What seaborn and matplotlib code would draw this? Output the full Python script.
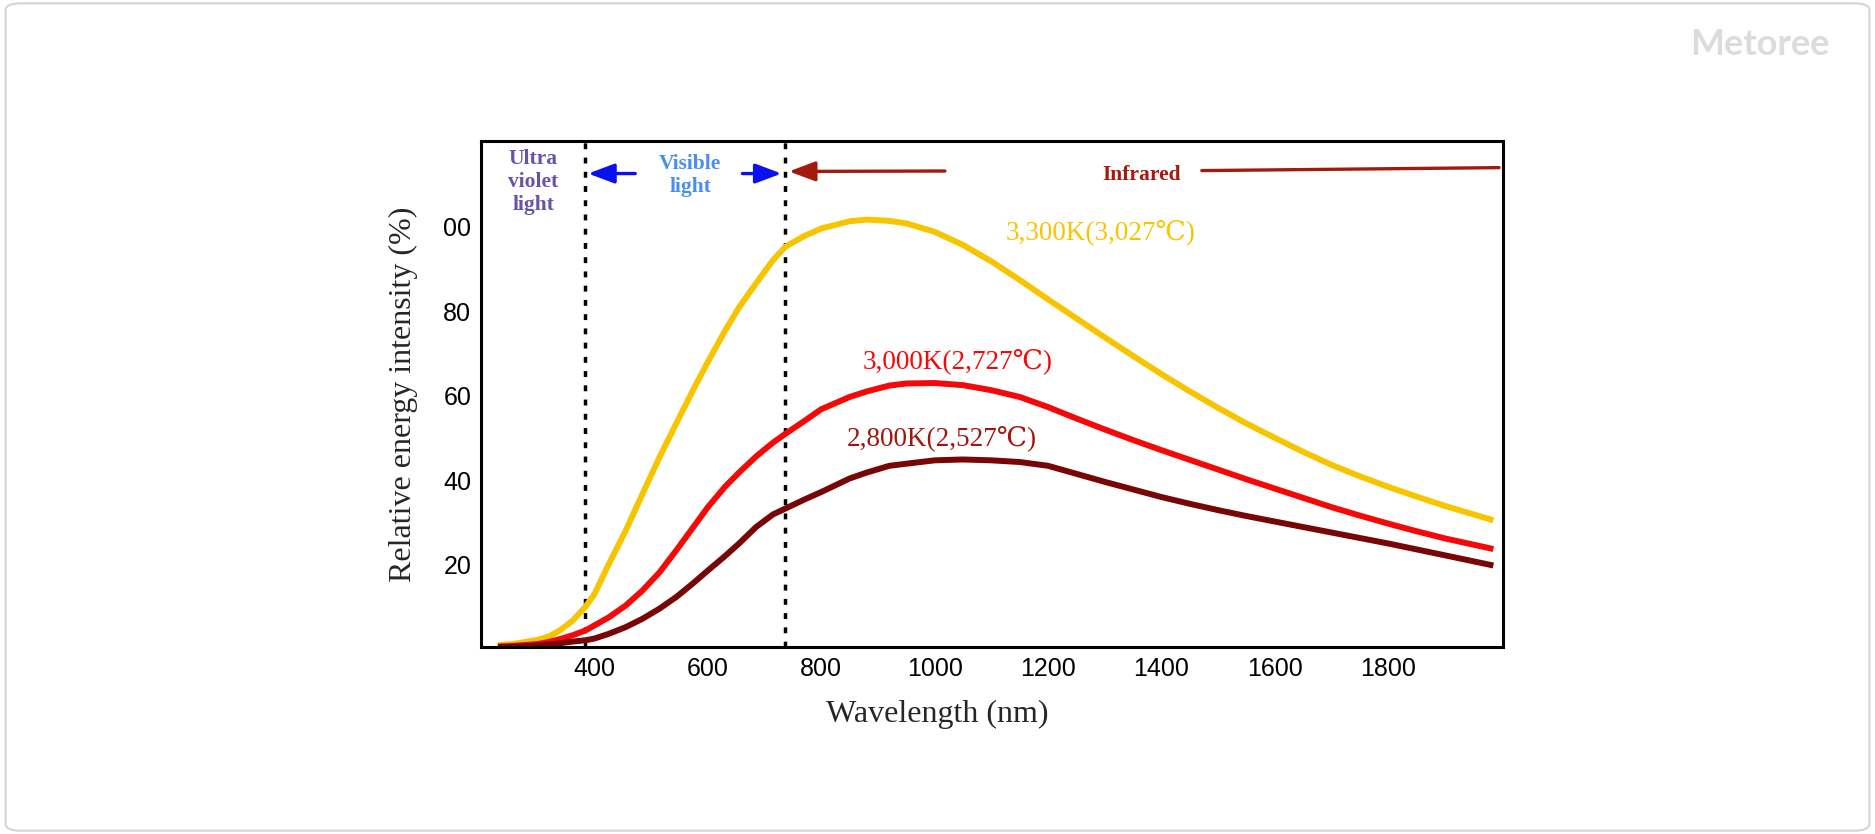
import matplotlib.pyplot as plt
import matplotlib.patches as mpatches
import seaborn as sns
import pandas as pd

# values
wavelength_nm = [230, 260, 300, 320, 340, 362, 384, 400, 425, 455, 485, 515, 545, 575, 600, 630, 655,
                 685, 715, 737, 770, 800, 850, 880, 920, 950, 1000, 1050, 1100, 1150, 1200, 1250,
                 1300, 1350, 1400, 1450, 1500, 1550, 1600, 1650, 1700, 1750, 1800, 1850, 1900, 1985]
intensity_3300k = [0.9, 1.3, 2.2, 3.0, 4.5, 6.8, 10.0, 13.0, 20.0, 28.0, 36.8, 45.5, 53.6, 61.6, 68.0,
                   75.3, 80.9, 86.6, 92.1, 95.3, 97.8, 99.6, 101.3, 101.7, 101.4, 100.8, 98.8, 95.7,
                   91.8, 87.4, 82.8, 78.3, 73.8, 69.4, 65.1, 61.0, 57.1, 53.4, 50.0, 46.7, 43.6, 40.9,
                   38.4, 36.1, 33.9, 30.5]
intensity_3000k = [0.6, 0.8, 1.2, 1.7, 2.4, 3.3, 4.4, 5.6, 7.5, 10.3, 13.9, 18.2, 23.5, 29.0, 33.6,
                   38.4, 41.8, 45.6, 48.9, 51.0, 54.0, 56.8, 59.7, 61.0, 62.4, 62.9, 63.0, 62.5,
                   61.3, 59.7, 57.3, 54.6, 52.0, 49.5, 47.1, 44.8, 42.5, 40.2, 38.0, 35.8, 33.6, 31.6,
                   29.7, 27.9, 26.2, 23.7]
intensity_2800k = [0.5, 0.6, 0.9, 1.1, 1.4, 1.8, 2.1, 2.5, 3.6, 5.2, 7.2, 9.6, 12.4, 15.7, 18.6,
                   22.0, 25.0, 28.9, 31.9, 33.3, 35.4, 37.2, 40.4, 41.8, 43.4, 43.9, 44.7, 44.9,
                   44.7, 44.3, 43.4, 41.5, 39.6, 37.8, 36.0, 34.4, 32.9, 31.5, 30.2, 28.9, 27.6, 26.3,
                   25.0, 23.6, 22.2, 19.8]

temperatures = ['3,300K(3,027℃)', '3,000K(2,727℃)', '2,800K(2,527℃)']
line_colors = ['#f7c500', '#f50808', '#780606']
label_colors = ['#f7c500', '#f50808', '#a3140c']

x_ticks = [400, 600, 800, 1000, 1200, 1400, 1600, 1800]
y_ticks = [20, 40, 60, 80, 100]
y_tick_labels = ['20', '40', '60', '80', '00']

df = pd.concat([
    pd.DataFrame({'wavelength': wavelength_nm, 'intensity': vals, 'temperature': name})
    for name, vals in zip(temperatures, [intensity_3300k, intensity_3000k, intensity_2800k])
], ignore_index=True)

sns.set_style('white')
plt.rcParams['font.family'] = ['Liberation Sans', 'DejaVu Sans']
serif = ['Liberation Serif', 'DejaVu Serif']

fig = plt.figure(figsize=(18.75, 8.34), dpi=100)
fig.patch.set_facecolor('white')

# rounded frame around the whole card
frame = mpatches.FancyBboxPatch((0.003, 0.004), 0.994, 0.992,
                                boxstyle='round,pad=0,rounding_size=0.008',
                                transform=fig.transFigure, fc='none', ec='#d4d4d4', lw=1.5)
fig.patches.append(frame)
fig.text(0.9387, 0.947, 'Metoree', family=['Lato', 'DejaVu Sans'], weight='bold',
         fontsize=26, color='#dcdcdc', ha='center', va='center')

ax = fig.add_axes([0.2565, 0.2242, 0.5451, 0.6067])

sns.lineplot(data=df, x='wavelength', y='intensity', hue='temperature',
             hue_order=temperatures, palette=dict(zip(temperatures, line_colors)),
             linewidth=4.3, legend=False, errorbar=None, ax=ax,
             solid_capstyle='butt', solid_joinstyle='round')

ax.set_xlim(200, 2002)
ax.set_ylim(0.5, 120.3)
ax.set_xticks(x_ticks)
ax.set_yticks(y_ticks)
ax.set_yticklabels(y_tick_labels)
ax.tick_params(direction='in', length=9.5, width=2.2, labelsize=18, colors='black')
ax.tick_params(axis='x', pad=7)
ax.tick_params(axis='y', pad=7)
for s in ax.spines.values():
    s.set_color('black')
    s.set_linewidth(2.2)

ax.set_xlabel('Wavelength (nm)', family=serif, fontsize=23, va='center')
ax.xaxis.set_label_coords(0.446, -0.134)
ax.set_ylabel('Relative energy intensity (%)', family=serif, fontsize=23, va='center')
ax.yaxis.set_label_coords(-0.0763, 0.5)

# region boundaries
for xb in [384, 736]:
    ax.axvline(xb, color='black', lw=2.5, ls=(0, (1.7, 2.4)), zorder=1)

# region captions and arrows
ax.text(292, 110.6, 'Ultra\nviolet\nlight', family=serif, weight='bold', fontsize=15.5,
        color='#6a52a8', ha='center', va='center', linespacing=1.2)
ax.text(569, 112.1, 'Visible\nlight', family=serif, weight='bold', fontsize=15.5,
        color='#4a8ef2', ha='center', va='center', linespacing=1.2)
ax.text(1365, 112.3, 'Infrared', family=serif, weight='bold', fontsize=15.5,
        color='#a31a0c', ha='center', va='center')

arrow_style = mpatches.ArrowStyle('-|>', head_length=1.6, head_width=0.6)
ax.annotate('', xy=(389, 112.6), xytext=(472, 112.6),
            arrowprops=dict(arrowstyle=arrow_style, color='#0a10f0', lw=2.4,
                            shrinkA=0, shrinkB=0, mutation_scale=10))
ax.annotate('', xy=(730, 112.6), xytext=(661, 112.6),
            arrowprops=dict(arrowstyle=arrow_style, color='#0a10f0', lw=2.4,
                            shrinkA=0, shrinkB=0, mutation_scale=10))
ax.annotate('', xy=(743, 113.1), xytext=(1018, 113.2),
            arrowprops=dict(arrowstyle=arrow_style, color='#a31a0c', lw=2.4,
                            shrinkA=0, shrinkB=0, mutation_scale=10))
ax.annotate('', xy=(1995, 114.0), xytext=(1471, 113.3),
            arrowprops=dict(arrowstyle='-', color='#a31a0c', lw=2.4,
                            shrinkA=0, shrinkB=0))

# curve labels
label_pos = [(1125, 98.8), (873, 68.2), (845, 49.9)]
for name, c, (lx, ly) in zip(temperatures, label_colors, label_pos):
    ax.text(lx, ly, name, family=serif, fontsize=19.5, color=c, ha='left', va='center')

fig.savefig('out.png', dpi=100, facecolor='white')
